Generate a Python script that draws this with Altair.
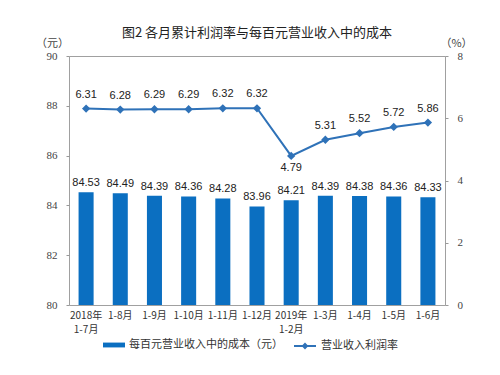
import altair as alt
import pandas as pd

categories = ["2018年\n1-7月", "1-8月", "1-9月", "1-10月", "1-11月", "1-12月",
              "2019年\n1-2月", "1-3月", "1-4月", "1-5月", "1-6月"]
cost = [84.53, 84.49, 84.39, 84.36, 84.28, 83.96, 84.21, 84.39, 84.38, 84.36, 84.33]
rate = [6.31, 6.28, 6.29, 6.29, 6.32, 6.32, 4.79, 5.31, 5.52, 5.72, 5.86]
label_below = [False, False, False, False, False, False, True, False, False, False, False]

bar_name = "每百元营业收入中的成本（元）"
line_name = "营业收入利润率"

df = pd.DataFrame({
    "cat": categories, "cost": cost, "rate": rate, "below": label_below,
    "s1": bar_name, "s2": line_name,
})

CJK = "Noto Sans CJK SC"
NUM = "Liberation Sans"
BAR_C = "#0b6fc1"
LINE_C = "#2f72b8"

x = alt.X("cat:N", sort=categories, title=None,
          scale=alt.Scale(paddingInner=0.56),
          axis=alt.Axis(labelAngle=0, labelExpr="split(datum.label, '\\n')",
                        labelFont=CJK, labelFontSize=10, labelColor="#333",
                        labelLineHeight=14, labelPadding=5, ticks=False,
                        domain=False))

base = alt.Chart(df)

bars = base.mark_bar(color=BAR_C).encode(
    x=x,
    y=alt.Y("cost:Q", scale=alt.Scale(domain=[80, 90], zero=False, nice=False),
            axis=alt.Axis(values=[80, 82, 84, 86, 88, 90], title="（元）",
                          titleAngle=0, titleX=-17, titleY=-13, titleAlign="center",
                          titleBaseline="middle", titleFont=CJK, titleFontSize=11,
                          titleFontWeight="normal", titleColor="#444",
                          labelFont="Liberation Serif", labelFontSize=11,
                          labelColor="#444", labelPadding=9, tickSize=3,
                          tickColor="#999", domain=False, grid=False)),
    y2=alt.datum(80),
    fill=alt.Fill("s1:N", scale=alt.Scale(domain=[bar_name], range=[BAR_C]),
                  legend=alt.Legend(title=None, orient="none", legendX=34, legendY=278,
                                    symbolType="M-1,-0.22H1V0.22H-1Z", symbolSize=484,
                                    symbolStrokeWidth=0, labelFont=CJK, labelFontSize=11,
                                    labelColor="#333", labelOffset=4)),
)

bar_text = base.mark_text(baseline="bottom", dy=-4, font=NUM, fontSize=11,
                          color="#222").encode(
    x=alt.X("cat:N", sort=categories),
    y=alt.Y("cost:Q"),
    text=alt.Text("cost:Q", format=".2f"),
)

left = alt.layer(bars, bar_text)

line = base.mark_line(color=LINE_C, strokeWidth=2,
                      point=alt.OverlayMarkDef(shape="diamond", size=30, filled=True,
                                               color=LINE_C)).encode(
    x=alt.X("cat:N", sort=categories),
    y=alt.Y("rate:Q", scale=alt.Scale(domain=[0, 8], nice=False),
            axis=alt.Axis(orient="right", values=list(range(0, 9)), title="（%）",
                          titleAngle=0, titleX=11, titleY=-13, titleAlign="center",
                          titleBaseline="middle", titleFont=CJK, titleFontSize=11,
                          titleFontWeight="normal", titleColor="#444",
                          labelFont="Liberation Serif", labelFontSize=11,
                          labelColor="#444", labelPadding=9, tickSize=3,
                          tickColor="#999", domain=False, grid=False)),
    stroke=alt.Stroke("s2:N", scale=alt.Scale(domain=[line_name], range=[LINE_C]),
                      legend=alt.Legend(title=None, orient="none", legendX=224, legendY=278,
                                        symbolType="M-1,0H1M-0.18,0L0,-0.18L0.18,0L0,0.18Z",
                                        symbolSize=484, symbolStrokeWidth=2,
                                        symbolFillColor=LINE_C,
                                        labelFont=CJK, labelFontSize=11,
                                        labelColor="#333", labelOffset=4)),
)

line_text_above = base.mark_text(baseline="middle", dy=-14, font=NUM, fontSize=11,
                                 color="#222").encode(
    x=alt.X("cat:N", sort=categories),
    y=alt.Y("rate:Q"),
    text=alt.Text("rate:Q", format=".2f"),
).transform_filter("!datum.below")

line_text_below = base.mark_text(baseline="middle", dy=12, font=NUM, fontSize=11,
                                 color="#222").encode(
    x=alt.X("cat:N", sort=categories),
    y=alt.Y("rate:Q"),
    text=alt.Text("rate:Q", format=".2f"),
).transform_filter("datum.below")

right = alt.layer(line, line_text_above, line_text_below)

chart = alt.layer(left, right).resolve_scale(
    y="independent", fill="independent", stroke="independent"
).resolve_legend(fill="independent", stroke="independent").properties(
    width=376, height=249,
    title=alt.Title("图2 各月累计利润率与每百元营业收入中的成本", font=CJK, fontSize=13,
                    fontWeight="normal", color="#222", anchor="middle", offset=-3),
    autosize=alt.AutoSizeParams(type="none"),
    padding={"left": 61, "top": 48, "right": 47, "bottom": 62},
    background="white",
).configure_view(stroke="#a0a0a0", strokeWidth=1)

chart.save("out.html", embed_options={"renderer": "svg", "actions": False})
